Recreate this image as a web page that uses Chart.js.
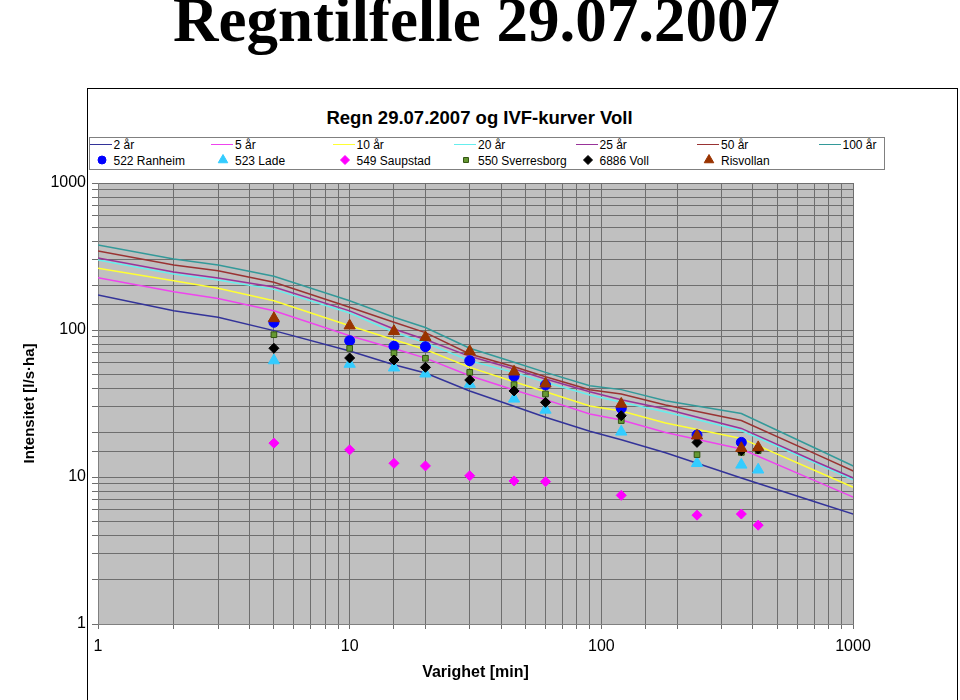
<!DOCTYPE html>
<html>
<head>
<meta charset="utf-8">
<script src="https://cdn.jsdelivr.net/npm/chart.js@4/dist/chart.umd.min.js"></script>
<style>
  html, body { margin:0; padding:0; background:#fff; }
  body { width:960px; height:700px; position:relative; overflow:hidden; font-family:"Liberation Sans", Arial, sans-serif; }
  #bigtitle { position:absolute; left:0; top:-11px; width:953px; text-align:center; font-family:"Liberation Serif","Times New Roman",serif; font-weight:bold; font-size:63px; line-height:63px; color:#000; white-space:nowrap; }
  #frame { position:absolute; left:87px; top:88px; width:869px; height:700px; border:1px solid #000; border-bottom:none; background:#fff; }
  #ctitle { position:absolute; left:0; width:959px; top:109px; text-align:center; font-weight:bold; font-size:18.5px; line-height:18.5px; white-space:nowrap; }
  #legendbox { position:absolute; left:89px; top:137px; width:794px; height:31px; border:1px solid #808080; }
  .lt { position:absolute; font-size:12px; line-height:12px; white-space:nowrap; color:#000; }
  .ls { position:absolute; height:0; border-top:1.5px solid #000; width:22px; }
  .lm { position:absolute; width:16px; height:16px; }
  canvas#c { position:absolute; left:0; top:0; }
</style>
</head>
<body>
<div id="bigtitle">Regntilfelle 29.07.2007</div>
<div id="frame"></div>
<div id="ctitle">Regn 29.07.2007 og IVF-kurver Voll</div>
<div id="legendbox"></div>
<div id="legend"></div>
<canvas id="c" width="960" height="700"></canvas>
<script>
// ---- data ----
const durations = [1, 2, 3, 5, 10, 15, 20, 30, 45, 60, 90, 120, 180, 360, 720, 1440];
const ivf2   = [173, 135, 122, 99, 72, 58, 51, 38.5, 30.3, 25.5, 20.5, 17.9, 14.6, 9.85, 6.7, 4.6];
const ivf5   = [227, 182, 164, 135, 91.4, 74.8, 64.4, 48.9, 39.1, 33.6, 26.8, 24.4, 20.1, 15.5, 9.3, 5.6];
const ivf10  = [263, 216, 192, 158, 107, 85.9, 73.6, 55.7, 44.5, 38.0, 30.4, 28.1, 23.3, 18.3, 10.9, 6.5];
const ivf20  = [299, 240, 219, 189, 130.5, 96.6, 82, 61.8, 51.5, 44.1, 36.1, 32.2, 27.7, 20.7, 12.3, 7.3];
const ivf25  = [309, 248, 226, 196, 135, 101.7, 86.1, 66.2, 54.3, 46.4, 38.0, 33.5, 29.0, 21.4, 12.6, 7.5];
const ivf50  = [345, 277, 253, 211, 143, 113, 96, 68.7, 56.2, 48.1, 39.2, 36.7, 30.9, 24.2, 14.2, 8.3];
const ivf100 = [379, 304, 277, 232, 158, 122, 104, 75.1, 60.3, 51.5, 41.8, 39.3, 33.0, 27.0, 15.5, 8.9];

const obsDurations = [5, 10, 15, 20, 30, 45, 60, 120, 240, 360, 420];
const ranheim     = [112.8, 84.5, 77.5, 77, 61.8, 48.4, 42.3, 29.3, 19.3, 17.2, null];
const lade        = [62, 58.7, 55.4, 50.4, 42.9, 34, 28.6, 20.3, 12.4, 12.1, 11.2];
const saupstad    = [17.0, 15.3, 12.4, 11.9, 10.2, 9.4, 9.3, 7.5, 5.5, 5.6, 4.7];
const sverresborg = [92.9, 75, 69.8, 64.2, 51.5, 42.5, 36.7, 24.2, 14.2, 14.7, 15.1];
const voll        = [75.1, 64.5, 62.5, 55.7, 45.7, 38.5, 32.2, 26.1, 17.2, 15.1, 15.5];
const risvollan   = [120, 107, 98, 89.2, 71.6, 52, 43.1, 31.4, 19.1, 15.7, 15.9];

const xTickLabels = [1, 10, 100, 1000];
const yTickLabels = [1, 10, 100, 1000];

// ---- series definitions ----
const lineSeries = [
  { label: '2 år',   data: ivf2,   color: '#333399' },
  { label: '5 år',   data: ivf5,   color: '#ee44ee' },
  { label: '10 år',  data: ivf10,  color: '#ffff33' },
  { label: '20 år',  data: ivf20,  color: '#66eeee' },
  { label: '25 år',  data: ivf25,  color: '#993399' },
  { label: '50 år',  data: ivf50,  color: '#993333' },
  { label: '100 år', data: ivf100, color: '#339999' }
];
const markerSeries = [
  { label: '522 Ranheim',     data: ranheim,     style: 'circle',   r: 5,   fill: '#0000ff', stroke: '#0000ff' },
  { label: '523 Lade',        data: lade,        style: 'triangle', r: 6.5, fill: '#33ccff', stroke: '#33ccff' },
  { label: '549 Saupstad',    data: saupstad,    style: 'rectRot',  r: 5,   fill: '#ff00ff', stroke: '#ff00ff' },
  { label: '550 Sverresborg', data: sverresborg, style: 'rect',     r: 4,   fill: '#669933', stroke: '#335511' },
  { label: '6886 Voll',       data: voll,        style: 'rectRot',  r: 5,   fill: '#000000', stroke: '#000000' },
  { label: 'Risvollan',       data: risvollan,   style: 'triangle', r: 6.5, fill: '#993300', stroke: '#993300' }
];

const datasets = [];
lineSeries.forEach((s, i) => {
  datasets.push({
    label: s.label,
    data: durations.map((d, k) => ({ x: d, y: s.data[k] })),
    showLine: true, borderColor: s.color, backgroundColor: s.color,
    borderWidth: 1.5, pointRadius: 0, tension: 0,
    order: 120 - i
  });
});
markerSeries.forEach((s, i) => {
  datasets.push({
    label: s.label,
    data: obsDurations.map((d, k) => ({ x: d, y: s.data[k] })).filter(p => p.y !== null),
    showLine: false, pointStyle: s.style, pointRadius: s.r,
    backgroundColor: s.fill, borderColor: s.stroke, borderWidth: 1,
    order: 10 - i
  });
});

const plotBg = {
  id: 'plotBg',
  beforeDraw(chart) {
    const { ctx, chartArea: a } = chart;
    ctx.save();
    ctx.fillStyle = '#c0c0c0';
    ctx.fillRect(a.left, a.top, a.right - a.left, a.bottom - a.top);
    ctx.restore();
  }
};

const tickFont = { family: '"Liberation Sans", Arial, sans-serif', size: 16 };
const gridCol = '#6e6e6e';

new Chart(document.getElementById('c'), {
  type: 'scatter',
  data: { datasets },
  plugins: [plotBg],
  options: {
    responsive: false,
    animation: false,
    devicePixelRatio: 1,
    layout: { padding: { left: 0, right: 107, top: 183, bottom: 0 } },
    plugins: { legend: { display: false }, title: { display: false }, tooltip: { enabled: false } },
    scales: {
      x: {
        type: 'logarithmic', min: 1, max: 1000, position: 'bottom',
        afterFit: s => { s.height = 76; },
        grid: { color: gridCol, lineWidth: 1, drawTicks: true, tickLength: 5, tickColor: gridCol },
        border: { color: '#808080', width: 1 },
        ticks: {
          autoSkip: false, maxRotation: 0, minRotation: 0, padding: 8, color: '#000', font: tickFont,
          callback: v => xTickLabels.includes(Number(v)) ? String(v) : ''
        },
        title: { display: true, text: 'Varighet [min]', color: '#000',
                 font: { family: '"Liberation Sans", Arial, sans-serif', size: 16, weight: 'bold' },
                 padding: { top: 0, bottom: 18 } }
      },
      y: {
        type: 'logarithmic', min: 1, max: 1000, position: 'left',
        afterFit: s => { s.width = 98; },
        grid: { color: gridCol, lineWidth: 1, drawTicks: true, tickLength: 6, tickColor: gridCol },
        border: { color: '#808080', width: 1 },
        ticks: {
          autoSkip: false, padding: 6, color: '#000', font: tickFont,
          callback: v => yTickLabels.includes(Number(v)) ? String(v) : ''
        },
        title: { display: true, text: 'Intensitet [l/s·ha]', color: '#000',
                 font: { family: '"Liberation Sans", Arial, sans-serif', size: 15, weight: 'bold' },
                 padding: { top: 21, bottom: 0 } }
      }
    }
  }
});

// ---- HTML legend (two rows, seven columns) ----
function drawShape(ctx, style, r, cx, cy, fill, stroke) {
  ctx.beginPath();
  if (style === 'circle') {
    ctx.arc(cx, cy, r, 0, Math.PI * 2);
  } else if (style === 'triangle') {
    for (let k = 0; k < 3; k++) {
      const a = k * 2 * Math.PI / 3;
      const px = cx + Math.sin(a) * r, py = cy - Math.cos(a) * r;
      if (k === 0) ctx.moveTo(px, py); else ctx.lineTo(px, py);
    }
    ctx.closePath();
  } else if (style === 'rectRot') {
    ctx.moveTo(cx, cy - r); ctx.lineTo(cx + r, cy); ctx.lineTo(cx, cy + r); ctx.lineTo(cx - r, cy); ctx.closePath();
  } else {
    const h = r * Math.SQRT1_2;
    ctx.rect(cx - h, cy - h, 2 * h, 2 * h);
  }
  ctx.fillStyle = fill; ctx.fill();
  ctx.strokeStyle = stroke; ctx.lineWidth = 1; ctx.stroke();
}
const leg = document.getElementById('legend');
const colText = [113.5, 235, 356.5, 478, 599.5, 721, 842.5];
const row1Top = 139, row2Top = 155;
lineSeries.forEach((s, i) => {
  const x = colText[i];
  const ln = document.createElement('div');
  ln.className = 'ls';
  ln.style.left = (x - 24) + 'px';
  ln.style.top = (row1Top + 5) + 'px';
  ln.style.borderTopColor = s.color;
  leg.appendChild(ln);
  const t = document.createElement('div');
  t.className = 'lt';
  t.style.left = x + 'px'; t.style.top = row1Top + 'px';
  t.textContent = s.label;
  leg.appendChild(t);
});
markerSeries.forEach((s, i) => {
  const x = colText[i];
  const cv = document.createElement('canvas');
  cv.width = 16; cv.height = 16; cv.className = 'lm';
  cv.style.left = (x - 12 - 8) + 'px';
  cv.style.top = (row2Top + 5 - 8) + 'px';
  const sz = s.style === 'triangle' ? 5.5 : (s.style === 'rect' ? 3.5 : (s.style === 'circle' ? 4 : 4.5));
  drawShape(cv.getContext('2d'), s.style, sz, 8, 8, s.fill, s.stroke);
  leg.appendChild(cv);
  const t = document.createElement('div');
  t.className = 'lt';
  t.style.left = x + 'px'; t.style.top = row2Top + 'px';
  t.textContent = s.label;
  leg.appendChild(t);
});
</script>
</body>
</html>
